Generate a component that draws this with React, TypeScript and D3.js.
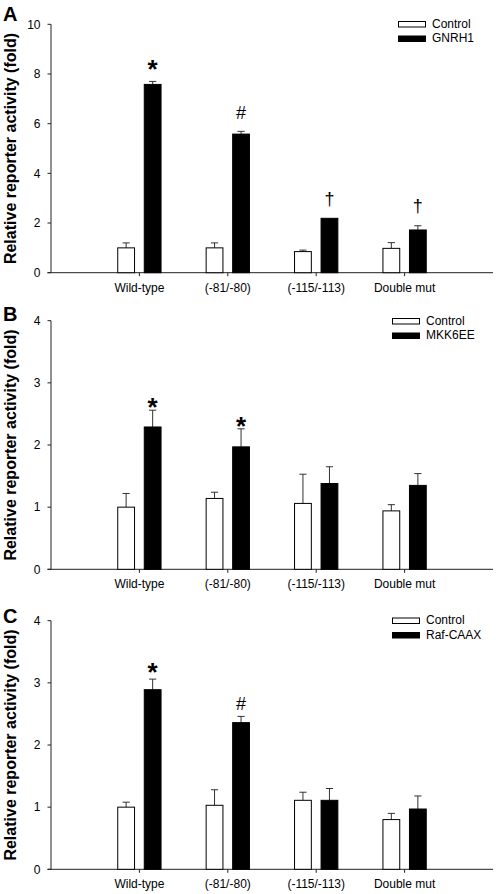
import React from "react";
import * as d3 from "d3";

const categories = ["Wild-type", "(-81/-80)", "(-115/-113)", "Double mut"];

const controlA = [1.0, 1.0, 0.85, 0.98];
const controlErrA = [0.2, 0.2, 0.06, 0.23];
const gnrh1 = [7.58, 5.58, 2.19, 1.72];
const gnrh1Err = [0.12, 0.11, 0.0, 0.17];
const marksA = ["*", "#", "†", "†"];

const controlB = [1.0, 1.14, 1.06, 0.94];
const controlErrB = [0.22, 0.1, 0.47, 0.1];
const mkk6ee = [2.29, 1.97, 1.38, 1.35];
const mkk6eeErr = [0.27, 0.29, 0.27, 0.19];
const marksB = ["*", "*", "", ""];

const controlC = [1.0, 1.03, 1.11, 0.8];
const controlErrC = [0.08, 0.25, 0.13, 0.1];
const rafCaax = [2.89, 2.36, 1.11, 0.97];
const rafCaaxErr = [0.17, 0.1, 0.19, 0.21];
const marksC = ["*", "#", "", ""];

const ticksA = [0, 2, 4, 6, 8, 10];
const ticksBC = [0, 1, 2, 3, 4];

const FONT = "'Liberation Sans', Arial, sans-serif";

type PanelProps = {
  letter: string;
  top: number;
  bottom: number;
  yMax: number;
  ticks: number[];
  control: number[];
  controlErr: number[];
  treat: number[];
  treatErr: number[];
  marks: string[];
  markGap: number;
  treatName: string;
  legendX: number;
  legendY: number;
  letterY: number;
};

function Panel(p: PanelProps) {
  const x = d3.scaleLinear().domain([0, 5]).range([51, 493]);
  const y = d3.scaleLinear().domain([0, p.yMax]).range([p.bottom, p.top]);
  const off = 0.15;
  const bw = x(0.19) - x(0);
  const cap = 3.6;
  const series = [
    { vals: p.control, errs: p.controlErr, off: -off, fill: "#fff" },
    { vals: p.treat, errs: p.treatErr, off: off, fill: "#000" },
  ];
  return (
    <g>
      <text x={3} y={p.letterY} fontFamily={FONT} fontWeight="bold" fontSize={20}>
        {p.letter}
      </text>
      <text
        transform={`translate(16,${(p.top + p.bottom) / 2}) rotate(-90)`}
        textAnchor="middle"
        fontFamily={FONT}
        fontWeight="bold"
        fontSize={16}
      >
        Relative reporter activity (fold)
      </text>
      <line x1={x(0)} x2={x(0)} y1={p.top} y2={p.bottom} stroke="#222" strokeWidth={1} />
      {p.ticks.map((t) => (
        <g key={t}>
          <line x1={x(0) - 3.5} x2={x(0)} y1={y(t)} y2={y(t)} stroke="#222" />
          <text
            x={40.5}
            y={y(t)}
            dy="0.36em"
            textAnchor="end"
            fontFamily={FONT}
            fontSize={12}
          >
            {t}
          </text>
        </g>
      ))}
      <line x1={x(0) - 3.5} x2={x(5)} y1={p.bottom} y2={p.bottom} stroke="#222" />
      {categories.map((c, i) => (
        <g key={c}>
          <line x1={x(i + 1)} x2={x(i + 1)} y1={p.bottom} y2={p.bottom + 3.5} stroke="#222" />
          <text
            x={x(i + 1)}
            y={p.bottom + 19}
            textAnchor="middle"
            fontFamily={FONT}
            fontSize={12}
          >
            {c}
          </text>
        </g>
      ))}
      {series.map((s, si) =>
        s.vals.map((v, i) => {
          const cx = x(i + 1 + s.off);
          const topY = y(v);
          const errY = y(v + s.errs[i]);
          return (
            <g key={`${si}-${i}`}>
              {s.errs[i] > 0 && (
                <g stroke="#333" strokeWidth={1}>
                  <line x1={cx} x2={cx} y1={topY} y2={errY} />
                  <line x1={cx - cap} x2={cx + cap} y1={errY} y2={errY} />
                </g>
              )}
              <rect
                x={cx - bw / 2}
                y={topY}
                width={bw}
                height={p.bottom - topY}
                fill={s.fill}
                stroke="#000"
                strokeWidth={1}
              />
            </g>
          );
        })
      )}
      {p.marks.map((m, i) => {
        if (!m) return null;
        const cx = x(i + 1 + off);
        const errY = y(p.treat[i] + p.treatErr[i]);
        const isStar = m === "*";
        const size = isStar ? 26 : 18;
        const centerEm = isStar ? 0.57 : m === "#" ? 0.35 : 0.27;
        const centerY = errY - p.markGap;
        return (
          <text
            key={`m${i}`}
            x={cx}
            y={centerY + centerEm * size}
            textAnchor="middle"
            fontFamily={FONT}
            fontWeight={isStar ? "bold" : "normal"}
            fontSize={size}
          >
            {m}
          </text>
        );
      })}
      <rect x={p.legendX} y={p.legendY} width={27} height={5.5} fill="#fff" stroke="#000" />
      <rect x={p.legendX} y={p.legendY + 14.5} width={27} height={5.5} fill="#000" stroke="#000" />
      <text x={p.legendX + 33.5} y={p.legendY + 6} fontFamily={FONT} fontSize={12}>
        Control
      </text>
      <text x={p.legendX + 33.5} y={p.legendY + 20.5} fontFamily={FONT} fontSize={12}>
        {p.treatName}
      </text>
    </g>
  );
}

export default function App() {
  return (
    <svg
      width={496}
      height={894}
      style={{ position: "absolute", left: 0, top: 0, background: "#fff" }}
    >
      <rect width={496} height={894} fill="#fff" />
      <Panel
        letter="A"
        top={24.3}
        bottom={272.7}
        yMax={10}
        ticks={ticksA}
        control={controlA}
        controlErr={controlErrA}
        treat={gnrh1}
        treatErr={gnrh1Err}
        marks={marksA}
        markGap={18.5}
        treatName="GNRH1"
        legendX={398.5}
        legendY={21.5}
        letterY={20.5}
      />
      <Panel
        letter="B"
        top={320.7}
        bottom={569.3}
        yMax={4}
        ticks={ticksBC}
        control={controlB}
        controlErr={controlErrB}
        treat={mkk6ee}
        treatErr={mkk6eeErr}
        marks={marksB}
        markGap={9}
        treatName="MKK6EE"
        legendX={392.5}
        legendY={318.5}
        letterY={321}
      />
      <Panel
        letter="C"
        top={620.7}
        bottom={869.3}
        yMax={4}
        ticks={ticksBC}
        control={controlC}
        controlErr={controlErrC}
        treat={rafCaax}
        treatErr={rafCaaxErr}
        marks={marksC}
        markGap={12.5}
        treatName="Raf-CAAX"
        legendX={392.5}
        legendY={618}
        letterY={623}
      />
    </svg>
  );
}
